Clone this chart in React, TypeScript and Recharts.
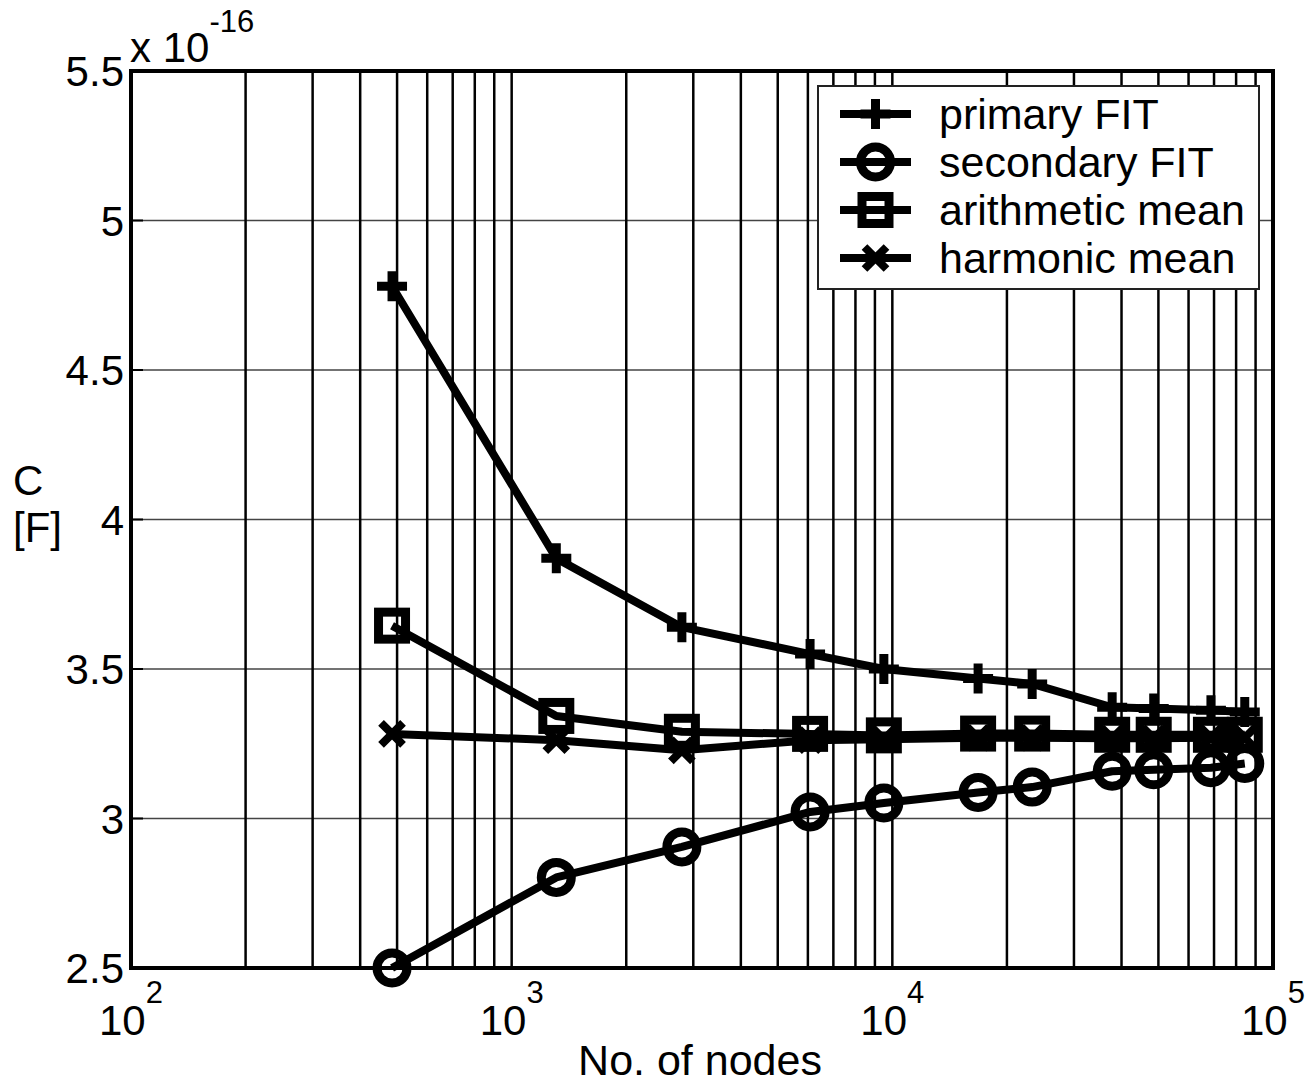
import React from 'react';
import {
  CartesianGrid,
  Label,
  Legend,
  Line,
  LineChart,
  ReferenceArea,
  ReferenceLine,
  XAxis,
  YAxis,
} from 'recharts';

// number of nodes (x, log scale)
const nodes = [485, 1310, 2800, 6080, 9500, 16800, 23300, 37800, 48600, 68700, 84300];

// capacitance values, in units of 1e-16 F
const primaryFit = [4.78, 3.87, 3.64, 3.55, 3.5, 3.468, 3.45, 3.372, 3.368, 3.362, 3.356];
const secondaryFit = [2.5, 2.803, 2.905, 3.022, 3.052, 3.087, 3.105, 3.158, 3.163, 3.17, 3.184];
const arithmeticMean = [3.645, 3.343, 3.29, 3.283, 3.278, 3.284, 3.284, 3.28, 3.28, 3.28, 3.28];
const harmonicMean = [3.283, 3.262, 3.228, 3.262, 3.265, 3.27, 3.27, 3.268, 3.268, 3.27, 3.27];

const xTicks = [100, 1000, 10000, 100000];
const xGrid = [
  200, 300, 400, 500, 600, 700, 800, 900, 1000,
  2000, 3000, 4000, 5000, 6000, 7000, 8000, 9000, 10000,
  20000, 30000, 40000, 50000, 60000, 70000, 80000, 90000,
];
const yTicks = [2.5, 3, 3.5, 4, 4.5, 5, 5.5];

const seriesNames = ['primary FIT', 'secondary FIT', 'arithmetic mean', 'harmonic mean'];
const seriesKeys = ['primary', 'secondary', 'arith', 'harm'];
const seriesMarkers = ['plus', 'circle', 'square', 'cross'];

const data = nodes.map((n, i) => ({
  n,
  primary: primaryFit[i],
  secondary: secondaryFit[i],
  arith: arithmeticMean[i],
  harm: harmonicMean[i],
}));

const FONT = 'Liberation Sans, Arial, Helvetica, sans-serif';

const Marker = ({ kind, cx, cy }: any) => {
  if (kind === 'plus') {
    return (
      <path
        d={`M${cx - 15},${cy}H${cx + 15}M${cx},${cy - 15}V${cy + 15}`}
        stroke='#000'
        strokeWidth={9}
        fill='none'
      />
    );
  }
  if (kind === 'circle') {
    return <circle cx={cx} cy={cy} r={15} stroke='#000' strokeWidth={9} fill='none' />;
  }
  if (kind === 'square') {
    return (
      <rect x={cx - 13.5} y={cy - 13.5} width={27} height={27} stroke='#000' strokeWidth={9} fill='none' />
    );
  }
  return (
    <path
      d={`M${cx - 11},${cy - 11}L${cx + 11},${cy + 11}M${cx - 11},${cy + 11}L${cx + 11},${cy - 11}`}
      stroke='#000'
      strokeWidth={8}
      fill='none'
    />
  );
};

const makeDot = (kind: string) => (props: any) => {
  const { cx, cy, index } = props;
  return (
    <g key={`${kind}-${index}`}>
      <Marker kind={kind} cx={cx} cy={cy} />
    </g>
  );
};

const XTick = ({ x, y, payload }: any) => {
  const exp = Math.round(Math.log10(payload.value));
  return (
    <text x={x} y={y + 67} textAnchor='middle' fontFamily={FONT} fontSize={42} fill='#000'>
      <tspan>10</tspan>
      <tspan dy={-32} fontSize={31}>
        {exp}
      </tspan>
    </text>
  );
};

const YTickLeft = ({ x, y, payload }: any) => (
  <g>
    <line x1={x} y1={y} x2={x + 12} y2={y} stroke='#000' strokeWidth={2} />
    <text x={x - 7} y={y + 15} textAnchor='end' fontFamily={FONT} fontSize={42} fill='#000'>
      {String(payload.value)}
    </text>
  </g>
);

const YTickRight = ({ x, y }: any) => (
  <line x1={x} y1={y} x2={x - 12} y2={y} stroke='#000' strokeWidth={2} />
);

const XLabel = () => (
  <text x={700} y={1075} textAnchor='middle' fontFamily={FONT} fontSize={43} fill='#000'>
    No. of nodes
  </text>
);

const YLabel = () => (
  <g fontFamily={FONT} fontSize={42} fill='#000'>
    <text x={13} y={495}>C</text>
    <text x={13} y={542}>[F]</text>
    <text x={130} y={62}>
      <tspan>x 10</tspan>
      <tspan dy={-30} fontSize={31}>
        -16
      </tspan>
    </text>
  </g>
);

const LegendBox = () => (
  <svg width={443} height={205} style={{ display: 'block' }}>
    <rect x={1} y={1} width={441} height={203} fill='#fff' stroke='#222' strokeWidth={2} />
    {seriesNames.map((name, i) => {
      const cy = 29 + i * 48;
      return (
        <g key={name}>
          <line x1={23} y1={cy} x2={94} y2={cy} stroke='#000' strokeWidth={8} />
          <Marker kind={seriesMarkers[i]} cx={58.5} cy={cy} />
          <text x={122} y={cy + 15} fontFamily={FONT} fontSize={43} fill='#000'>
            {name}
          </text>
        </g>
      );
    })}
  </svg>
);

const App: React.FC = () => {
  return (
    <div style={{ position: 'absolute', left: 0, top: 0, background: '#fff' }}>
      <LineChart width={1306} height={1084} data={data} margin={{ top: 71, right: 0, bottom: 0, left: 0 }}>
        <CartesianGrid horizontal vertical={false} stroke='#444' strokeWidth={1.5} />
        {xGrid.map((v) => (
          <ReferenceLine key={v} x={v} stroke='#000' strokeWidth={2.5} />
        ))}
        <ReferenceArea x1={100} x2={100000} y1={2.5} y2={5.5} fill='none' stroke='#000' strokeWidth={4} />
        <XAxis
          dataKey='n'
          type='number'
          scale='log'
          domain={[100, 100000]}
          ticks={xTicks}
          height={116}
          tickSize={0}
          tickMargin={0}
          tickLine={false}
          axisLine={false}
          tick={<XTick />}
          interval={0}
        >
          <Label content={<XLabel />} />
        </XAxis>
        <YAxis
          type='number'
          domain={[2.5, 5.5]}
          ticks={yTicks}
          width={131}
          tickSize={0}
          tickMargin={0}
          tickLine={false}
          axisLine={false}
          tick={<YTickLeft />}
          interval={0}
        >
          <Label content={<YLabel />} />
        </YAxis>
        <YAxis
          yAxisId='right'
          orientation='right'
          type='number'
          domain={[2.5, 5.5]}
          ticks={yTicks}
          width={33}
          tickSize={0}
          tickMargin={0}
          tickLine={false}
          axisLine={false}
          tick={<YTickRight />}
          interval={0}
        />
        {seriesKeys.map((k, i) => (
          <Line
            key={k}
            dataKey={k}
            name={seriesNames[i]}
            stroke='#000'
            strokeWidth={8}
            strokeLinejoin='round'
            dot={makeDot(seriesMarkers[i])}
            activeDot={false}
            isAnimationActive={false}
          />
        ))}
        <Legend
          layout='vertical'
          align='center'
          verticalAlign='middle'
          wrapperStyle={{ position: 'absolute', left: 817, top: 85, width: 443, height: 205 }}
          content={<LegendBox />}
        />
      </LineChart>
    </div>
  );
};

export default App;
